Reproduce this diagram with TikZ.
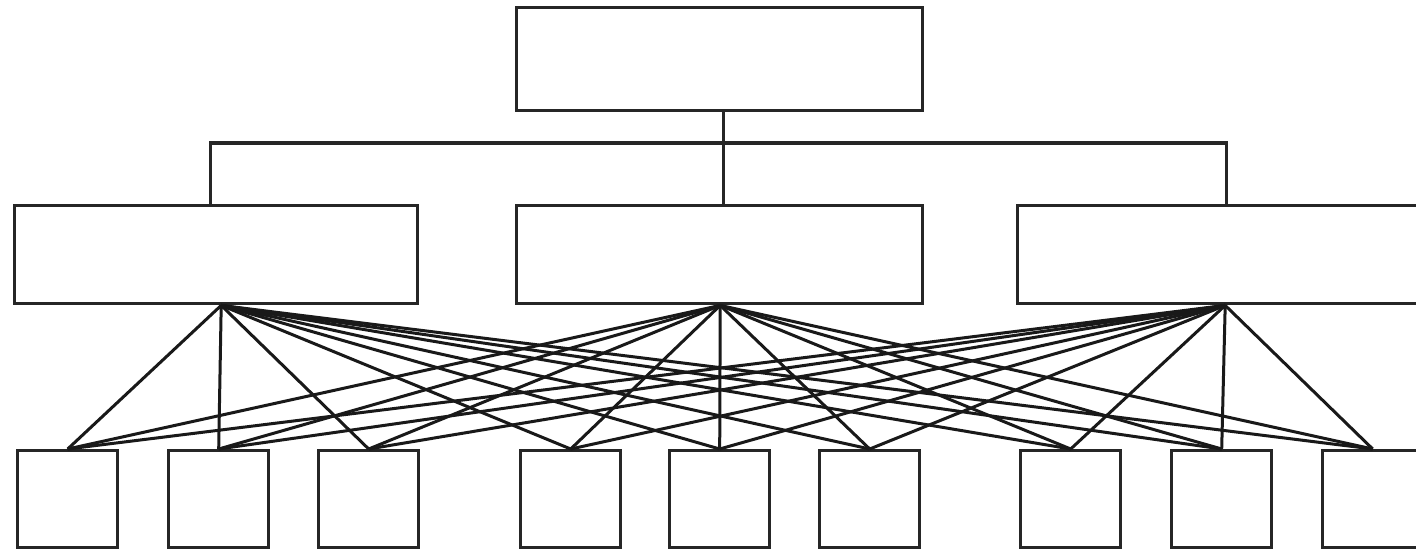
\documentclass[tikz,border=0pt]{standalone}
\begin{document}
\begin{tikzpicture}[x=1pt,y=-1pt,
  box/.style={draw=black!85,line width=3.4pt,fill=white,inner sep=0pt,
              rectangle,anchor=north west},
  link/.style={draw=black!85,line width=3.2pt},
  fan/.style={draw=black!90,line width=3pt}]
\useasboundingbox (0,0) rectangle (1416,552);
\clip (0,0) rectangle (1416,552);

% top level
\node[box,minimum width=406pt,minimum height=103pt] (top) at (514.5,6) {};

% second level
\node[box,minimum width=403pt,minimum height=98pt] (m1) at (13,204) {};
\node[box,minimum width=406pt,minimum height=98pt] (m2) at (514.5,204) {};
\node[box,minimum width=407pt,minimum height=98pt] (m3) at (1016,204) {};

% third level
\foreach \i/\x in {1/16,2/167,3/317,4/519,5/668,6/818,7/1019,8/1170,9/1321}
  \node[box,minimum width=100pt,minimum height=97pt] (b\i) at (\x,449) {};

% bus between the first and second level
\coordinate (bus) at (722,143);
\draw[link] ([xshift=4.5pt]top.south) -- ([xshift=4.5pt]m2.north);
\draw[link,line cap=rect] ([xshift=-5.5pt]m1.north) |- (bus) -| ([xshift=5pt]m3.north);

% every second-level box feeds every third-level box
\coordinate (s1) at ([xshift=5pt]m1.south);
\coordinate (s2) at ([xshift=1pt]m2.south);
\coordinate (s3) at ([xshift=4pt]m3.south);
\foreach \s in {s1,s2,s3}
  \foreach \i in {1,...,9}
    \draw[fan] (\s) -- (b\i.north);
\end{tikzpicture}
\end{document}
